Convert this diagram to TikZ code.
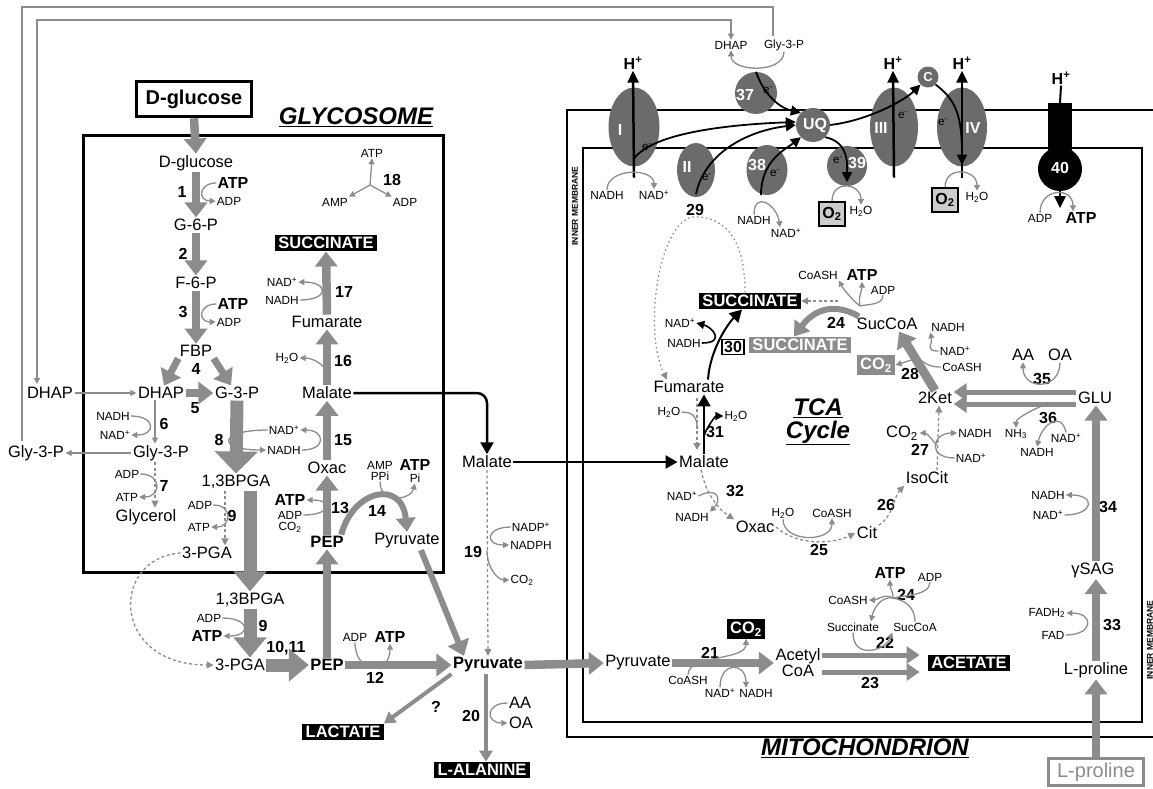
\documentclass[tikz,border=0pt]{standalone}
\usepackage{fontspec}
\setmainfont{Liberation Sans}
\usetikzlibrary{arrows.meta,shapes.geometric}

\definecolor{pathgray}{gray}{0.55}
\definecolor{cplxgray}{gray}{0.42}
\definecolor{boxgray}{gray}{0.8}

\newcommand\metfont{\fontsize{16.5}{17}\selectfont}
\newcommand\cofont{\fontsize{11.8}{12}\selectfont}
\newcommand\numfont{\fontsize{16}{17}\selectfont\bfseries}
\newcommand\tagfont{\fontsize{16.5}{17}\selectfont\bfseries}
\newcommand\headfont{\fontsize{24}{26}\selectfont\bfseries\itshape}
\newcommand\memfont{\fontsize{8.5}{9}\selectfont\bfseries}

\begin{document}
\begin{tikzpicture}[x=1pt, y=-1pt,
    met/.style={font=\metfont, inner sep=1.5pt},
    metb/.style={font=\metfont\bfseries, inner sep=1.5pt},
    co/.style={font=\cofont, inner sep=1pt},
    cob/.style={font=\numfont, inner sep=1pt},
    num/.style={font=\numfont, inner sep=1pt},
    tag/.style={fill=black, text=white, font=\tagfont, inner xsep=3.5pt, inner ysep=2.5pt},
    taggray/.style={fill=pathgray, text=white, font=\tagfont, inner xsep=3.5pt, inner ysep=2.5pt},
    numbox/.style={draw, line width=1.5pt, fill=white, font=\numfont, inner sep=2pt},
    o2/.style={draw, line width=1.5pt, fill=boxgray, font=\numfont, minimum width=26pt, minimum height=24pt, inner sep=0pt},
    head/.style={font=\headfont},
    mem/.style={font=\memfont, rotate=90},
    cplx/.style={fill=cplxgray, inner sep=0pt},
    cplxlbl/.style={text=white, font=\numfont, inner sep=0pt},
    el/.style={font=\cofont, inner sep=0pt},
    flux/.style={draw=pathgray, line width=8.5pt, -{Triangle[length=15pt,width=22pt]}},
    bigflux/.style={draw=pathgray, line width=13pt, -{Triangle[length=20pt,width=32pt]}},
    dbl/.style={draw=pathgray, line width=5pt, -{Triangle[length=13pt,width=17pt]}},
    thinflux/.style={draw=pathgray, line width=4pt, -{Triangle[length=11pt,width=13pt]}},
    sidearr/.style={draw=pathgray, line width=1.3pt, -{Triangle[length=6pt,width=6pt]}},
    sideline/.style={draw=pathgray, line width=1.3pt},
    dflux/.style={draw=pathgray, line width=1.3pt, dash pattern=on 3pt off 2.5pt, -{Triangle[length=7pt,width=7pt]}},
    dline/.style={draw=pathgray, line width=1.3pt, dash pattern=on 3pt off 2.5pt},
    dotflux/.style={draw=pathgray, line width=1.3pt, dash pattern=on 1.5pt off 3pt, -{Triangle[length=7pt,width=7pt]}},
    blkarr/.style={draw=black, line width=2.5pt, -{Triangle[length=12pt,width=13pt]}},
    blkthin/.style={draw=black, line width=1.6pt, -{Triangle[length=8pt,width=8pt]}},
    harr/.style={draw=black, line width=2.5pt, -{Triangle[length=12pt,width=11pt]}},
    eflow/.style={draw=black, line width=1.8pt, -{Triangle[length=10pt,width=10pt]}}]

    \useasboundingbox (0,0) rectangle (1153,788);

    % glycosome
    \draw[line width=3pt] (83,135) rectangle (443,572);
    \node[head] (glytitle) at (356,117) {\underline{GLYCOSOME}};
    \node[draw, line width=3.5pt, font=\fontsize{20}{22}\selectfont\bfseries, minimum width=115pt, minimum height=35pt, inner sep=0pt] (glcbox) at (194,99) {D-glucose};

    \node[met] (glc) at (196,163) {D-glucose};
    \node[met] (g6p) at (196,225) {G-6-P};
    \node[met] (f6p) at (196,283) {F-6-P};
    \node[met] (fbp) at (196,351) {FBP};
    \node[met] (dhap) at (161,393) {DHAP};
    \node[met] (g3p) at (237,393) {G-3-P};
    \node[met] (gly3p) at (161,453) {Gly-3-P};
    \node[met] (glyc) at (146,517) {Glycerol};
    \node[met] (bpgain) at (236,482) {1,3BPGA};
    \node[met] (pgain) at (207,553) {3-PGA};
    \node[met] (bpgaout) at (250,600) {1,3BPGA};
    \node[met] (pgaout) at (240,665) {3-PGA};
    \node[metb] (pepout) at (327,665) {PEP};
    \node[metb] (pepin) at (327,542) {PEP};
    \node[met] (oxacg) at (327,468) {Oxac};
    \node[met] (malg) at (327,393) {Malate};
    \node[met] (fumg) at (327,322) {Fumarate};
    \node[tag] (succg) at (326,243) {SUCCINATE};
    \node[met] (pyrin) at (407,541) {Pyruvate};

    \node[met] (dhapl) at (50,393) {DHAP};
    \node[met] (gly3pl) at (36,453) {Gly-3-P};
    \node[metb] (pyrout) at (488,665) {Pyruvate};
    \node[met] (malc) at (487,462) {Malate};
    \node[tag] (lact) at (343,732) {LACTATE};
    \node[tag] (ala) at (482,770) {L-ALANINE};

    \node[num] (n1) at (182,192) {1};
    \node[cob] (atp1) at (233,183) {ATP};
    \node[co] (adp1) at (229,201) {ADP};
    \node[num] (n2) at (183,254) {2};
    \node[num] (n3) at (183,312) {3};
    \node[cob] (atp3) at (233,304) {ATP};
    \node[co] (adp3) at (229,322) {ADP};
    \node[num] (n4) at (196,369) {4};
    \node[num] (n5) at (195,408) {5};
    \node[num] (n6) at (164,424) {6};
    \node[co] (nadh6) at (113,416) {NADH};
    \node[co] (nad6) at (115,435) {NAD\textsuperscript{+}};
    \node[num] (n7) at (164,486) {7};
    \node[co] (adp7) at (127,474) {ADP};
    \node[co] (atp7) at (127,497) {ATP};
    \node[num] (n8) at (219,440) {8};
    \node[co] (nad15) at (284,430) {NAD\textsuperscript{+}};
    \node[co] (nadh15) at (284,450) {NADH};
    \node[num] (n15) at (343,440) {15};
    \node[num] (n16) at (343,361) {16};
    \node[co] (h2o16) at (287,358) {H\textsubscript{2}O};
    \node[num] (n17) at (344,292) {17};
    \node[co] (nad17) at (282,282) {NAD\textsuperscript{+}};
    \node[co] (nadh17) at (282,300) {NADH};
    \node[co] (atp18) at (372,153) {ATP};
    \node[num] (n18) at (392,180) {18};
    \node[co] (amp18) at (335,202) {AMP};
    \node[co] (adp18) at (405,202) {ADP};
    \node[num] (n9a) at (232,516) {9};
    \node[co] (adp9a) at (200,505) {ADP};
    \node[co] (atp9a) at (199,527) {ATP};
    \node[num] (n13) at (340,508) {13};
    \node[cob] (atp13) at (290,500) {ATP};
    \node[co] (adp13) at (290,515) {ADP};
    \node[co] (co213) at (290,527) {CO\textsubscript{2}};
    \node[num] (n14) at (377,511) {14};
    \node[co] (amp14) at (380,465) {AMP};
    \node[co] (ppi14) at (380,476) {PPi};
    \node[cob] (atp14) at (415,465) {ATP};
    \node[co] (pi14) at (415,478) {Pi};
    \node[num] (n9b) at (263,626) {9};
    \node[co] (adp9b) at (209,618) {ADP};
    \node[cob] (atp9b) at (207,636) {ATP};
    \node[num] (n1011) at (286,648) {10,11};
    \node[num] (n12) at (375,678) {12};
    \node[co] (adp12) at (355,637) {ADP};
    \node[cob] (atp12) at (390,637) {ATP};
    \node[num] (n19) at (473,552) {19};
    \node[co] (nadp19) at (531,527) {NADP\textsuperscript{+}};
    \node[co] (nadph19) at (531,545) {NADPH};
    \node[co] (co219) at (522,580) {CO\textsubscript{2}};
    \node[num] (nq) at (436,707) {?};
    \node[num] (n20) at (471,716) {20};
    \node[met] (aa20) at (520,703) {AA};
    \node[met] (oa20) at (521,723) {OA};

    \draw[flux] (glcbox.south) -- (glc.north);
    \draw[flux] (glc.south) -- (g6p.north);
    \draw[flux] (g6p.south) -- (f6p.north);
    \draw[flux] (f6p.south) -- (fbp.north);
    \draw[flux, line width=7pt] (fbp.south west) -- ([xshift=3pt]dhap.north);
    \draw[flux, line width=7pt] (fbp.south east) -- ([xshift=-6pt]g3p.north);
    \draw[flux] (dhap.east) -- (g3p.west);
    \draw[sidearr] (dhapl.east) -- (dhap.west);
    \draw[sidearr] ([xshift=-6pt]dhap.south) -- ([xshift=-6pt]gly3p.north);
    \draw[sidearr] (gly3p.west) -- (gly3pl.east);
    \draw[dflux] ([xshift=-6pt]gly3p.south) -- ([xshift=9pt]glyc.north);
    \draw[bigflux, -{Triangle[length=22pt,width=42pt]}] (g3p.south) -- (bpgain.north);
    \draw[bigflux] ([xshift=14pt]bpgain.south) -- (bpgaout.north);
    \draw[dflux] ([xshift=-11pt]bpgain.south) -- ([xshift=18pt]pgain.north);
    \draw[bigflux] (bpgaout.south) -- ([xshift=10pt]pgaout.north);
    \draw[bigflux] (pgaout.east) -- (pepout.west);
    \draw[flux] (pepout.north) -- (pepin.south);
    \draw[flux] (pepout.east) -- (pyrout.west);
    \draw[flux] (pepin.north) -- (oxacg.south);
    \draw[flux] (oxacg.north) -- (malg.south);
    \draw[flux] (malg.north) -- (fumg.south);
    \draw[flux] (fumg.north) -- (succg.south);
    \draw[flux, line width=6pt, -{Triangle[length=14pt,width=19pt]}] ([xshift=-4pt]pepin.north east) .. controls +(12,-45) and +(-5,-53) .. (pyrin.north);
    \draw[flux, line width=6pt] ([xshift=14pt]pyrin.south) -- ([xshift=-24pt]pyrout.north);
    \draw[dflux] (pgain.west) .. controls (110,558) and (110,665) .. (pgaout.west);

    \draw[sidearr] (atp1.west) .. controls +(-18,0) and +(-18,0) .. (adp1.west);
    \draw[sidearr] (atp3.west) .. controls +(-18,0) and +(-18,0) .. (adp3.west);
    \draw[sidearr] (nadh6.east) .. controls +(25,0) and +(25,0) .. (nad6.east);
    \draw[sidearr] (adp7.east) .. controls +(22,0) and +(22,0) .. (atp7.east);
    \draw[sidearr] (adp9a.east) .. controls +(20,0) and +(20,0) .. (atp9a.east);
    \draw[sidearr] (nad15.west) .. controls +(-50,0) and +(-50,0) .. (nadh15.west);
    \draw[sidearr] (nadh15.east) .. controls +(25,0) and +(25,0) .. (nad15.east);
    \draw[sidearr] ([yshift=12pt]malg.north) .. controls +(-3,-10) and +(12,0) .. (h2o16.east);
    \draw[sidearr] (nadh17.east) .. controls +(30,0) and +(30,0) .. (nad17.east);
    \coordinate (hub18) at (370,185);
    \draw[sidearr] (hub18) -- (atp18.south);
    \draw[sidearr] (hub18) -- (amp18.north east);
    \draw[sidearr] (hub18) -- (adp18.north west);
    \draw[sidearr] (adp13.east) .. controls +(28,0) and +(28,0) .. (atp13.east);
    \draw[sidearr] (ppi14.south) .. controls +(0,24) and +(-4,16) .. (pi14.south);
    \draw[sidearr] (adp9b.east) .. controls +(28,0) and +(28,0) .. (atp9b.east);
    \draw[sidearr] (adp12.south) .. controls +(0,32) and +(0,32) .. (atp12.south);
    \draw[sidearr] (nadp19.west) .. controls +(-25,0) and +(-25,0) .. (nadph19.west);
    \draw[sidearr] (malc.south |- nadph19.south) .. controls +(0,20) and +(-10,0) .. (co219.west);
    \draw[dflux] (malc.south) -- (pyrout.north);
    \draw[blkarr, rounded corners=10pt] (malg.east) -| (malc.north);
    \draw[thinflux] (pyrout.south west) -- (lact.north east);
    \draw[thinflux] ([xshift=-2pt]pyrout.south) -- ([xshift=4pt]ala.north);
    \draw[sidearr] (aa20.west) .. controls +(-22,0) and +(-22,0) .. (oa20.west);

    % mitochondrion
    \draw[line width=2.5pt] (1160,110) -- (567,110) -- (567,737) -- (1160,737);
    \draw[line width=2.5pt] (583,148) rectangle (1142,722);
    \node[mem] (meml) at (575,206) {INNER MEMBRANE};
    \node[mem] (memr) at (1150,640) {INNER MEMBRANE};
    \node[head] (mitotitle) at (865,748) {\underline{MITOCHONDRION}};
    \node[head] (tca) at (818,408) {\underline{TCA}};
    \node[head] (cycle) at (818,433) {\underline{Cycle}};

    \node[cplx, ellipse, minimum width=51pt, minimum height=79pt] (cI) at (634,127) {};
    \node[cplx, ellipse, minimum width=38pt, minimum height=54pt] (cII) at (696,170) {};
    \node[cplx, circle, minimum size=42pt] (c37) at (756,93) {};
    \node[cplx, ellipse, minimum width=41pt, minimum height=50pt] (c38) at (767,170) {};
    \node[cplx, circle, minimum size=40pt] (c39) at (847,166) {};
    \node[cplx, circle, minimum size=34pt] (uq) at (813,125) {};
    \node[cplx, ellipse, minimum width=48pt, minimum height=79pt] (cIII) at (894,127) {};
    \node[cplx, circle, minimum size=21pt] (cytc) at (928,77) {};
    \node[cplx, ellipse, minimum width=50pt, minimum height=79pt] (cIV) at (962,127) {};
    \node[fill=black, minimum width=24pt, minimum height=47pt, inner sep=0pt] (stalk) at (1060,126.5) {};
    \node[fill=black, circle, minimum size=44pt, inner sep=0pt] (c40) at (1060,169) {};

    \node[cplxlbl] (lI) at (620,130) {I};
    \node[cplxlbl] (lII) at (687,167) {II};
    \node[cplxlbl] (l37) at (745,95) {37};
    \node[cplxlbl] (l38) at (757,165) {38};
    \node[cplxlbl] (l39) at (857,163) {39};
    \node[cplxlbl] (luq) at (815,125) {UQ};
    \node[cplxlbl] (lIII) at (881,128) {III};
    \node[cplxlbl, font=\fontsize{13}{14}\selectfont\bfseries] (lc) at (928,77) {C};
    \node[cplxlbl] (lIV) at (973,128) {IV};
    \node[cplxlbl] (l40) at (1060,168) {40};

    \node[el] (e1) at (647,147) {e\textsuperscript{-}};
    \node[el] (e2) at (707,177) {e\textsuperscript{-}};
    \node[el] (e37) at (768,90) {e\textsuperscript{-}};
    \node[el] (e38) at (775,173) {e\textsuperscript{-}};
    \node[el] (e39) at (838,160) {e\textsuperscript{-}};
    \node[el] (e3) at (903,115) {e\textsuperscript{-}};
    \node[el] (e4) at (943,122) {e\textsuperscript{-}};

    \node[cob] (h1) at (633,63) {H\textsuperscript{+}};
    \node[cob] (h3) at (893,63) {H\textsuperscript{+}};
    \node[cob] (h4) at (962,63) {H\textsuperscript{+}};
    \node[cob] (h40) at (1061,78) {H\textsuperscript{+}};

    \node[co] (dhapt) at (731,45) {DHAP};
    \node[co] (gly3pt) at (784,45) {Gly-3-P};
    \node[co] (nadhI) at (607,195) {NADH};
    \node[co] (nadI) at (654,195) {NAD\textsuperscript{+}};
    \node[num] (n29) at (695,210) {29};
    \node[co] (nadh38) at (754,220) {NADH};
    \node[co] (nad38) at (786,233) {NAD\textsuperscript{+}};
    \node[o2] (o2a) at (832,214) {O\textsubscript{2}};
    \node[co] (h2o39) at (861,211) {H\textsubscript{2}O};
    \node[o2] (o2b) at (945,200) {O\textsubscript{2}};
    \node[co] (h2oIV) at (977,197) {H\textsubscript{2}O};
    \node[co] (adp40) at (1040,218) {ADP};
    \node[cob] (atp40) at (1081,218) {ATP};

    % shuttles between cytosol and mitochondrion
    \coordinate (dhapend) at (37,384);
    \draw[sideline, {Triangle[length=6pt,width=6pt]}-{Triangle[length=6pt,width=6pt]}] (dhapt.north) |- (37,20) -- (dhapend);
    \draw[sideline] (22,441) -- (22,7) -- (773,7) -- (773,36);
    \draw[sidearr] (gly3pt.south) .. controls +(0,22) and +(0,22) .. (dhapt.south);

    \draw[eflow] ([yshift=8pt]cI.south) .. controls +(20,-28) and +(-55,2) .. ([yshift=3pt]uq.west);
    \draw[eflow] ([yshift=3pt]cII.south) .. controls +(8,-40) and +(-50,6) .. (uq.west);
    \draw[eflow] ([xshift=-6pt]c38.south) .. controls +(0,-35) and +(-15,12) .. (uq.south west);
    \draw[eflow] (c37.north) .. controls +(6,18) and +(-25,-6) .. (uq.north west);
    \draw[eflow] (uq.south east) .. controls +(25,5) and +(0,-15) .. ([yshift=4pt]c39.south);
    \draw[eflow] (uq.east) .. controls +(40,-5) and +(-15,15) .. (cytc.south west);
    \draw[eflow] (cytc.south east) .. controls +(20,15) and +(0,-50) .. ([yshift=2pt]cIV.south);
    \draw[harr] ([yshift=-11pt]cI.south) -- (h1.south);
    \draw[harr] ([yshift=-11pt]cIII.south) -- (h3.south);
    \draw[harr] ([yshift=-11pt]cIV.south) -- (h4.south);
    \draw[line width=2pt] (h40.south) -- (stalk.north);
    \draw[harr] ([yshift=16pt]c40.south) -- ([yshift=-17pt]c40.south);
    \draw[sidearr] (nadhI.north) .. controls +(0,-22) and +(0,-22) .. (nadI.north);
    \draw[sidearr] (nadh38.north) .. controls +(0,-25) and +(-3,-22) .. ([xshift=-6pt]nad38.north);
    \draw[sidearr] (o2a.north) .. controls +(0,-22) and +(0,-22) .. (h2o39.north);
    \draw[sidearr] (o2b.north) .. controls +(0,-22) and +(0,-22) .. (h2oIV.north);
    \draw[sidearr] (adp40.north) .. controls +(0,-25) and +(0,-25) .. ([xshift=-8pt]atp40.north);

    % TCA cycle
    \node[tag] (succm) at (750,301) {SUCCINATE};
    \node[taggray] (succgr) at (800,345) {SUCCINATE};
    \node[numbox] (n30) at (733,347) {30};
    \node[co] (nad30) at (680,323) {NAD\textsuperscript{+}};
    \node[co] (nadh30) at (684,343) {NADH};
    \node[met] (fumm) at (689,387) {Fumarate};
    \node[met] (malm) at (704,462) {Malate};
    \node[co] (h2o31a) at (669,412) {H\textsubscript{2}O};
    \node[co] (h2o31b) at (736,416) {H\textsubscript{2}O};
    \node[num] (n31) at (715,432) {31};
    \node[num] (n32) at (735,491) {32};
    \node[co] (nad32) at (682,496) {NAD\textsuperscript{+}};
    \node[co] (nadh32) at (692,517) {NADH};
    \node[met] (oxacm) at (755,527) {Oxac};
    \node[co] (h2o25) at (783,513) {H\textsubscript{2}O};
    \node[co] (coash25) at (832,513) {CoASH};
    \node[num] (n25) at (819,550) {25};
    \node[met] (cit) at (867,533) {Cit};
    \node[num] (n26) at (886,505) {26};
    \node[met] (isocit) at (927,478) {IsoCit};
    \node[num] (n27) at (920,450) {27};
    \node[met] (co227) at (902,433) {CO\textsubscript{2}};
    \node[co] (nadh27) at (975,433) {NADH};
    \node[co] (nad27) at (971,458) {NAD\textsuperscript{+}};
    \node[met] (ket) at (935,398) {2Ket};
    \node[met] (glu) at (1095,398) {GLU};
    \node[met] (aa35) at (1023,355) {AA};
    \node[met] (oa35) at (1060,355) {OA};
    \node[num] (n35) at (1042,379) {35};
    \node[co] (nh3) at (1016,434) {NH\textsubscript{3}};
    \node[co] (nadh36) at (1037,452) {NADH};
    \node[co] (nad36) at (1066,438) {NAD\textsuperscript{+}};
    \node[num] (n36) at (1048,418) {36};
    \node[met] (succoa) at (887,324) {SucCoA};
    \node[co] (nadh28) at (948,327) {NADH};
    \node[co] (nad28) at (955,351) {NAD\textsuperscript{+}};
    \node[co] (coash28) at (962,367) {CoASH};
    \node[taggray] (co2g) at (876,365) {CO\textsubscript{2}};
    \node[num] (n28) at (910,374) {28};
    \node[co] (coash24) at (818,275) {CoASH};
    \node[cob] (atp24) at (862,275) {ATP};
    \node[co] (adp24) at (883,290) {ADP};
    \node[num] (n24) at (836,323) {24};

    \draw[dotflux] ([xshift=-5pt]succm.north) .. controls +(0,-60) and +(25,0) .. (n29.south)
        .. controls +(-35,0) and +(-25,-50) .. ([xshift=-22pt]fumm.north);
    \draw[blkarr, line width=2pt] ([xshift=19pt]fumm.north) .. controls +(2,-30) and +(-14,14) .. ([xshift=-8pt]succm.south);
    \draw[blkthin] (nadh30.east) .. controls +(24,0) and +(16,4) .. (nad30.east);
    \draw[blkarr] (malc.east) -- (malm.west);
    \draw[blkarr, line width=2pt] (malm.north) -- (malm.north |- fumm.south);
    \draw[blkthin] ([yshift=18pt]malm.north) .. controls +(2,-8) and +(-8,0) .. (h2o31b.west);
    \coordinate (r31top) at (697,398);
    \coordinate (r31bot) at (697,450);
    \coordinate (r31in) at (697,428);
    \draw[dflux] (r31top) -- (r31bot);
    \draw[sideline] (h2o31a.east) .. controls +(14,0) and +(0,-8) .. (r31in);
    \draw[dflux] ([xshift=-3pt]malm.south) .. controls +(5,25) and +(-15,-10) .. (oxacm.north west);
    \draw[sidearr] (nad32.east) .. controls +(20,-10) and +(12,-12) .. (nadh32.north east);
    \draw[dflux] (oxacm.east) .. controls +(20,18) and +(-25,12) .. (cit.west);
    \draw[sidearr] (h2o25.south) .. controls +(0,24) and +(0,24) .. (coash25.south);
    \draw[dflux] (cit.north east) .. controls +(15,-10) and +(-10,10) .. (isocit.south west);
    \draw[dflux] ([xshift=10pt]isocit.north) -- ([xshift=4pt]ket.south);
    \draw[sidearr] ([xshift=10pt,yshift=25pt]isocit.north) .. controls +(-5,-5) and +(8,0) .. (co227.east);
    \draw[sidearr] (nad27.west) .. controls +(-28,0) and +(-25,0) .. (nadh27.west);
    \draw[dbl] ([yshift=6pt]glu.west) -- ([yshift=6pt]ket.east);
    \draw[dbl] ([yshift=-6pt]glu.west) -- ([yshift=-6pt]ket.east);
    \draw[sidearr] (oa35.south) .. controls +(0,28) and +(0,28) .. (aa35.south);
    \draw[sidearr] ([xshift=-30pt,yshift=-6pt]glu.west) .. controls +(-10,4) and +(0,-10) .. (nh3.north);
    \draw[sidearr] (nad36.north) .. controls +(-5,-22) and +(5,-22) .. (nadh36.north);
    \draw[flux, line width=9pt] (ket.north) -- ([xshift=12pt]succoa.south);
    \draw[sidearr] (nad28.west) .. controls +(-15,0) and +(3,12) .. (nadh28.south west);
    \coordinate (r28) at (918,358);
    \draw[sideline] (coash28.west) .. controls +(-12,0) and +(8,6) .. (r28);
    \draw[sidearr] (r28) -- (co2g.east);
    \coordinate (hub24) at (860,306);
    \coordinate (dash24) at (838,301);
    \draw[flux, line width=6pt, -{Triangle[length=14pt,width=19pt]}] ([xshift=4pt]succoa.north west) .. controls +(-28,-16) and +(18,-24) .. ([xshift=-6pt]succgr.north);
    \draw[sidearr] (hub24) .. controls +(-8,-6) and +(4,8) .. (coash24.south east);
    \draw[sidearr] (hub24) .. controls +(-2,-8) and +(0,8) .. (atp24.south);
    \draw[sideline] (adp24.south) .. controls +(0,10) and +(8,-2) .. (hub24);
    \draw[dflux] (dash24) -- (succm.east);

    % pyruvate, acetate and proline in the matrix
    \node[met] (pyrm) at (638,663) {Pyruvate};
    \node[met, align=center, font=\fontsize{16.5}{14}\selectfont] (acoa) at (798,663) {Acetyl\\CoA};
    \node[tag] (co2b) at (746,629) {CO\textsubscript{2}};
    \node[num] (n21) at (710,653) {21};
    \node[co] (coash21) at (688,680) {CoASH};
    \node[co] (nad21) at (720,693) {NAD\textsuperscript{+}};
    \node[co] (nadh21) at (756,693) {NADH};
    \node[tag] (acet) at (969,663) {ACETATE};
    \node[num] (n22) at (885,643) {22};
    \node[num] (n23) at (870,683) {23};
    \node[co] (succ22) at (853,627) {Succinate};
    \node[co] (succoa22) at (915,627) {SucCoA};
    \node[num] (n24b) at (906,595) {24};
    \node[co] (coash24b) at (848,600) {CoASH};
    \node[cob] (atp24b) at (890,573) {ATP};
    \node[co] (adp24b) at (930,577) {ADP};
    \node[met] (lpro) at (1096,670) {L-proline};
    \node[met] (gsag) at (1093,570) {γSAG};
    \node[co] (fadh2) at (1047,613) {FADH\textsubscript{2}};
    \node[co] (fad) at (1053,635) {FAD};
    \node[num] (n33) at (1112,625) {33};
    \node[co] (nadh34) at (1048,495) {NADH};
    \node[co] (nad34) at (1048,515) {NAD\textsuperscript{+}};
    \node[num] (n34) at (1108,507) {34};
    \node[draw=pathgray, line width=3pt, text=pathgray, font=\fontsize{20}{22}\selectfont, minimum width=95pt, minimum height=27pt, inner sep=0pt] (lprobox) at (1096,772) {L-proline};

    \draw[flux] (pyrout.east) -- (pyrm.west);
    \draw[flux] (pyrm.east) -- (pyrm.east -| acoa.west);
    \draw[sidearr] (coash21.north) .. controls +(0,-20) and +(0,22) .. (co2b.south);
    \draw[sidearr] (nad21.north) .. controls +(0,-26) and +(0,-26) .. ([xshift=-10pt]nadh21.north);
    \draw[dbl] ([yshift=8pt]acoa.east) -- ([yshift=8pt,xshift=-8pt]acet.west);
    \draw[dbl] ([yshift=-9pt]acoa.east) -- ([yshift=-9pt,xshift=-8pt]acet.west);
    \draw[sidearr] (succ22.south) .. controls +(0,28) and +(-6,18) .. (succoa22.south west);
    \coordinate (hub24b) at (893,598);
    \draw[sideline] (succoa22.north) .. controls +(0,-16) and +(10,2) .. (hub24b);
    \draw[sidearr] (hub24b) .. controls +(-14,-2) and +(2,-10) .. ([xshift=18pt]succ22.north);
    \draw[sidearr] (hub24b) .. controls +(-8,-5) and +(8,0) .. (coash24b.east);
    \draw[sidearr] (hub24b) .. controls +(0,-8) and +(0,10) .. (atp24b.south);
    \draw[sideline] (adp24b.south) .. controls +(0,14) and +(6,-2) .. (hub24b);
    \draw[flux] (lprobox.north) -- (lprobox.north |- lpro.south);
    \draw[flux] (lpro.north) -- (lpro.north |- gsag.south);
    \draw[flux] (lpro.north |- gsag.north) -- (lpro.north |- glu.south);
    \draw[sidearr] (fad.east) .. controls +(28,0) and +(28,0) .. (fadh2.east);
    \draw[sidearr] (nad34.east) .. controls +(30,0) and +(30,0) .. (nadh34.east);
\end{tikzpicture}
\end{document}
